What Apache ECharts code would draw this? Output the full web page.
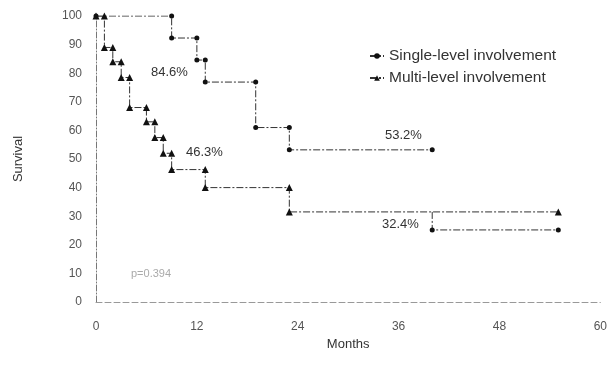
<!DOCTYPE html>
<html><head><meta charset="utf-8">
<script src="https://cdn.jsdelivr.net/npm/echarts@6/dist/echarts.min.js"></script>
<style>html,body{margin:0;padding:0;background:#fff}#c{width:610px;height:371px}</style>
</head><body><div id="c"></div>
<script>
// Single-level involvement (step points: [month, survival %])
const singleMonths = [0, 9, 9, 12, 12, 13, 13, 19, 19, 23, 23, 40];
const singleSurv   = [100, 100, 92.3, 92.3, 84.6, 84.6, 76.9, 76.9, 61, 61, 53.2, 53.2];
// extra single-level segment drawn at the lower right
const singleTailMonths = [40, 40, 55];
const singleTailSurv   = [31.5, 25.2, 25.2];
// Multi-level involvement
const multiMonths = [0, 1, 1, 2, 2, 3, 3, 4, 4, 6, 6, 7, 7, 8, 8, 9, 9, 13, 13, 23, 23, 55];
const multiSurv   = [100, 100, 89, 89, 84, 84, 78.5, 78.5, 68, 68, 63, 63, 57.5, 57.5, 52, 52, 46.3, 46.3, 40, 40, 31.5, 31.5];
const xTicks = [0, 12, 24, 36, 48, 60];
const yTicks = [0, 10, 20, 30, 40, 50, 60, 70, 80, 90, 100];
const annotations = ["84.6%", "46.3%", "53.2%", "32.4%", "p=0.394"];

const singleData = singleMonths.map((m, i) => [m, singleSurv[i]]);
singleData.push([40, '-']);
singleTailMonths.forEach((m, i) => {
  const pt = { value: [m, singleTailSurv[i]] };
  if (i === 0) pt.symbol = 'none';
  singleData.push(pt);
});
const multiData = multiMonths.map((m, i) => [m, multiSurv[i]]);

const font = 'Liberation Sans, Arial, sans-serif';
const lineCol = '#333';
const chart = echarts.init(document.getElementById('c'));
chart.setOption({
  animation: false,
  backgroundColor: '#fff',
  grid: { left: 96, right: 6, top: 16, bottom: 69 },
  xAxis: {
    type: 'value', min: 0, max: 60, interval: 12,
    name: 'Months', nameLocation: 'middle', nameGap: 34,
    nameTextStyle: { fontFamily: font, fontSize: 13, color: '#333' },
    axisLine: { lineStyle: { color: '#999', type: [6, 3], width: 1 } },
    axisTick: { show: false }, splitLine: { show: false },
    axisLabel: { fontFamily: font, fontSize: 12, color: '#555', margin: 19 }
  },
  yAxis: {
    type: 'value', min: 0, max: 100, interval: 10,
    name: 'Survival', nameLocation: 'middle', nameGap: 71,
    nameTextStyle: { fontFamily: font, fontSize: 13, color: '#333' },
    axisLine: { show: true, lineStyle: { color: '#777', type: [6, 2, 1, 2], width: 1 } },
    axisTick: { show: false }, splitLine: { show: false },
    axisLabel: { fontFamily: font, fontSize: 12, color: '#555', margin: 14 }
  },
  legend: {
    left: 364, top: 43, orient: 'vertical', itemGap: 6, itemWidth: 14, itemHeight: 7,
    textStyle: { fontFamily: font, fontSize: 15.5, color: '#333' },
    data: ['Single-level involvement', 'Multi-level involvement']
  },
  series: [
    {
      name: 'Single-level involvement', type: 'line', data: singleData,
      symbol: 'circle', symbolSize: 5, connectNulls: false,
      itemStyle: { color: '#111' },
      lineStyle: { color: lineCol, width: 1, type: [7, 2, 2, 2] }
    },
    {
      name: 'Multi-level involvement', type: 'line', data: multiData,
      symbol: 'triangle', symbolSize: 7,
      itemStyle: { color: '#111' },
      lineStyle: { color: lineCol, width: 1, type: [7, 2, 2, 2] }
    }
  ],
  graphic: [
    { type: 'text', left: 151, top: 66, style: { text: annotations[0], font: '13px ' + font, fill: '#333' } },
    { type: 'text', left: 186, top: 146, style: { text: annotations[1], font: '13px ' + font, fill: '#333' } },
    { type: 'text', left: 385, top: 129, style: { text: annotations[2], font: '13px ' + font, fill: '#333' } },
    { type: 'text', left: 382, top: 218, style: { text: annotations[3], font: '13px ' + font, fill: '#333' } },
    { type: 'text', left: 131, top: 268, style: { text: annotations[4], font: '11px ' + font, fill: '#aaa' } }
  ]
});
</script></body></html>
